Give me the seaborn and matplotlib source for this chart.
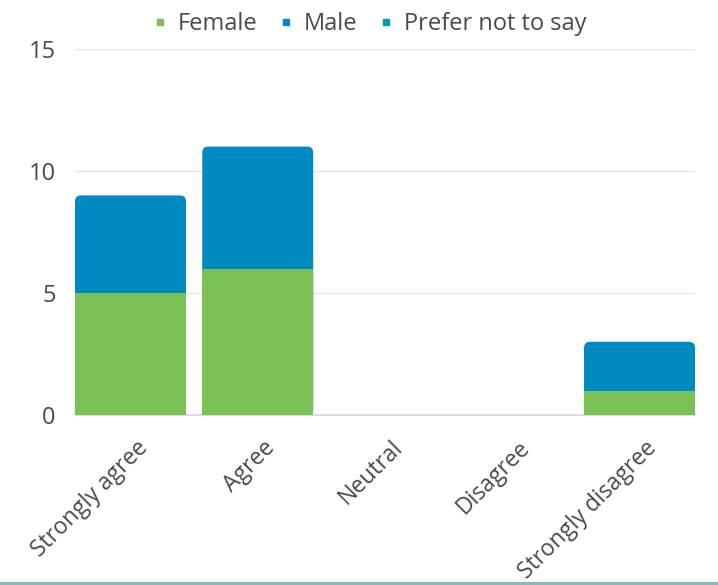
import matplotlib
matplotlib.use("Agg")
import matplotlib.pyplot as plt
import matplotlib.transforms as mtransforms
import seaborn as sns
import pandas as pd
from matplotlib.lines import Line2D
from matplotlib.patches import FancyBboxPatch

categories = ["Strongly agree", "Agree", "Neutral", "Disagree", "Strongly disagree"]
female = [5, 6, 0, 0, 1]
male = [4, 5, 0, 0, 2]
prefer_not = [0, 0, 0, 0, 0]

green = "#7bc053"
blue = "#008ac2"
teal = "#0099b8"

sns.set_theme(style="white")
plt.rcParams["font.family"] = ["Open Sans", "DejaVu Sans"]

df = pd.DataFrame({"cat": categories, "Female": female, "Male": male,
                   "Prefer not to say": prefer_not})
df["fm"] = df["Female"] + df["Male"]

bar_w = 0.872
fig = plt.figure(figsize=(7.18, 5.85), dpi=100)
ax = fig.add_axes([75 / 718, 170 / 585, 620 / 718, 366 / 585])

sns.barplot(data=df, x="cat", y="Male", bottom=df["Female"], color=blue,
            width=bar_w, saturation=1, ax=ax, edgecolor="none")
n_male = len(ax.patches)
sns.barplot(data=df, x="cat", y="Female", color=green, width=bar_w,
            saturation=1, ax=ax, edgecolor="none", zorder=3)
sns.barplot(data=df, x="cat", y="Prefer not to say", bottom=df["fm"],
            color=teal, width=bar_w, saturation=1, ax=ax, edgecolor="none")

ax.set_xlim(-bar_w / 2, len(categories) - 1 + bar_w / 2)
ax.set_ylim(0, 15)

# round the top corners of the stacked bars
px_x = (ax.get_xlim()[1] - ax.get_xlim()[0]) / 620
px_y = 15 / 366
for p in list(ax.patches[:n_male]):
    x, y = p.get_x(), p.get_y()
    w, h = p.get_width(), p.get_height()
    if h <= 0:
        continue
    p.set_visible(False)
    rb = FancyBboxPatch((x, 0), w, y + h,
                        boxstyle=f"round,pad=0,rounding_size={6 * px_x}",
                        mutation_aspect=px_y / px_x, facecolor=blue,
                        edgecolor="none", zorder=2)
    ax.add_patch(rb)

ax.set_yticks([0, 5, 10, 15])
ax.yaxis.grid(True, color="#e6e6e6", linewidth=1)
ax.set_axisbelow(True)
for s in ["top", "right", "left"]:
    ax.spines[s].set_visible(False)
ax.spines["bottom"].set_color("#d8d8d8")
ax.spines["bottom"].set_zorder(1)
ax.set_xlabel("")
ax.set_ylabel("")
ax.tick_params(axis="y", labelsize=17, colors="#4a4a4a", length=0, pad=14)
ax.tick_params(axis="x", labelsize=16.5, colors="#4a4a4a", length=0, pad=15)
shift = mtransforms.ScaledTranslation(4 / 72, 0, fig.dpi_scale_trans)
for lab in ax.get_xticklabels():
    lab.set_rotation(45)
    lab.set_ha("right")
    lab.set_rotation_mode("anchor")
    lab.set_transform(lab.get_transform() + shift)

handles = [Line2D([], [], marker="s", linestyle="none", color=c, markersize=5)
           for c in [green, blue, teal]]
fig.legend(handles, ["Female", "Male", "Prefer not to say"], loc="upper center",
           bbox_to_anchor=(0.513, 1.015), ncol=3, frameon=False, fontsize=17,
           handletextpad=0.36, columnspacing=0.8, labelcolor="#4a4a4a",
           handlelength=0.8)

fig.add_artist(Line2D([0, 1], [1.5 / 585, 1.5 / 585], color="#8fb3c0", linewidth=3))

fig.savefig("out.png", dpi=100)
